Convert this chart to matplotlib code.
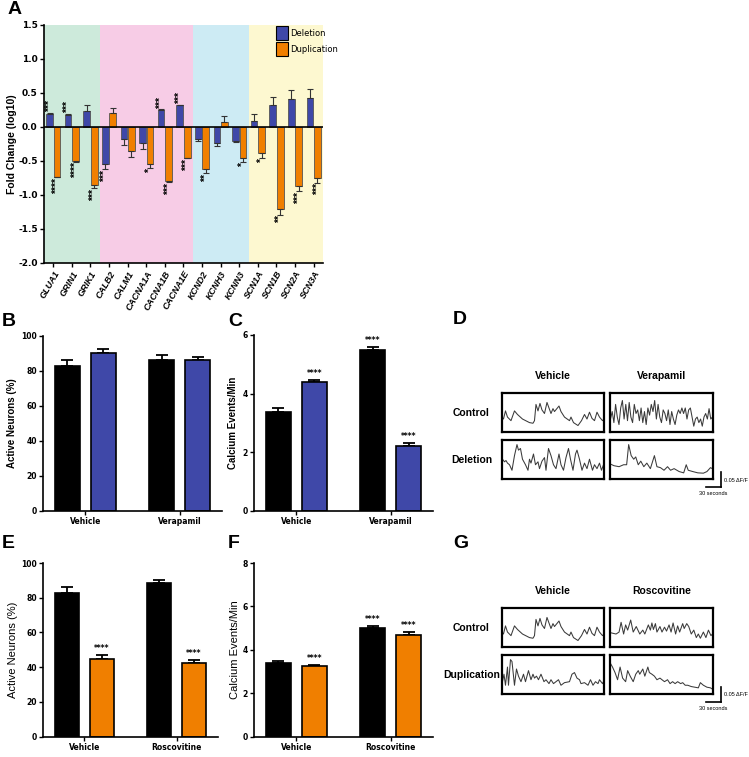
"""
Gene expression (A), calcium imaging bars (B, C, E, F) and example traces (D, G)
"""
import numpy as np
import matplotlib
matplotlib.use("Agg")
import matplotlib.pyplot as plt
from matplotlib import font_manager
from matplotlib.patches import Patch

names = {f.name for f in font_manager.fontManager.ttflist}
NARROW = "Liberation Sans Narrow" if "Liberation Sans Narrow" in names else "DejaVu Sans"
plt.rcParams['font.family'] = ['Liberation Sans', 'DejaVu Sans']

BLUE = '#3f48a8'
ORANGE = '#f07f00'

# ---- panel A data
genes = ['GLUA1', 'GRIN1', 'GRIK1', 'CALB2', 'CALM1', 'CACNA1A', 'CACNA1B', 'CACNA1E',
         'KCND2', 'KCNH3', 'KCNN3', 'SCN1A', 'SCN1B', 'SCN2A', 'SCN3A']
del_vals = [0.19, 0.17, 0.24, -0.55, -0.18, -0.24, 0.25, 0.32, -0.17, -0.24, -0.20, 0.09, 0.33, 0.41, 0.42]
del_err = [0.02, 0.02, 0.09, 0.07, 0.08, 0.08, 0.01, 0.01, 0.03, 0.04, 0.02, 0.10, 0.11, 0.14, 0.14]
dup_vals = [-0.73, -0.50, -0.85, 0.21, -0.36, -0.55, -0.80, -0.45, -0.62, 0.08, -0.46, -0.38, -1.21, -0.87, -0.75]
dup_err = [0.01, 0.01, 0.05, 0.07, 0.08, 0.06, 0.01, 0.01, 0.06, 0.08, 0.06, 0.08, 0.08, 0.07, 0.07]
del_sig = ['***', '***', '', '***', '', '', '***', '***', '', '', '', '', '', '', '']
dup_sig = ['****', '****', '***', '', '', '*', '***', '***', '**', '', '*', '*', '**', '***', '***']
group_sizes = [3, 5, 3, 4]
group_colors = ['#cdeadb', '#f7cce6', '#cdebf4', '#fdf8d0']

# ---- panels B, C (verapamil, deletion) and E, F (roscovitine, duplication)
treat_BC = ['Vehicle', 'Verapamil']
treat_EF = ['Vehicle', 'Roscovitine']
B_ctrl, B_ctrl_err, B_mut, B_mut_err = [83, 86.5], [3, 2.5], [90, 86.5], [2.5, 1.5]
C_ctrl, C_ctrl_err, C_mut, C_mut_err = [3.38, 5.5], [0.12, 0.1], [4.38, 2.22], [0.08, 0.1]
C_ctrl_sig, C_mut_sig = ['', '****'], ['****', '****']
E_ctrl, E_ctrl_err, E_mut, E_mut_err = [83, 88.5], [3, 1.5], [44.5, 42.3], [2.5, 1.8]
E_ctrl_sig, E_mut_sig = ['', ''], ['****', '****']
F_ctrl, F_ctrl_err, F_mut, F_mut_err = [3.38, 5.0], [0.12, 0.08], [3.25, 4.7], [0.05, 0.12]
F_ctrl_sig, F_mut_sig = ['', '****'], ['****', '****']

# ---- example traces (time in s, dF/F)
ctrl_veh_t = [0, 3, 7, 11, 18, 25, 31, 41, 55, 62, 65, 68, 72, 76, 80, 85, 90, 94, 98, 102, 105, 114,
              118, 125, 135, 138, 143, 152, 159, 165, 170, 175, 180, 185, 190, 195, 201, 204]
ctrl_veh_f = [.051, .045, .070, .051, .040, .070, .059, .045, .034, .032, .040, .090, .070, .093, .073,
              .062, .096, .079, .062, .077, .068, .085, .068, .051, .040, .051, .034, .025, .040, .059,
              .045, .066, .047, .040, .066, .051, .040, .045]
ctrl_vera_f = [.045, .068, .034, .090, .051, .028, .079, .102, .045, .090,
               .040, .096, .051, .034, .090, .062, .073, .040, .079, .034,
               .068, .028, .079, .057, .090, .068, .102, .045, .090, .051,
               .034, .073, .062, .040, .073, .028, .068, .045, .028, .057,
               .073, .062, .079, .062, .079, .045, .073, .079, .051, .023,
               .045, .051, .034, .045, .023, .051, .062, .045, .077, .045, .051]
del_veh_t = [1, 5, 8, 11, 15, 20, 25, 30, 33, 37, 41, 47, 52, 55, 58, 63, 67, 72, 75, 80, 85, 88, 93,
             98, 103, 108, 114, 118, 123, 128, 133, 137, 142, 147, 150, 155, 160, 165, 170, 175, 181,
             185, 190, 195, 199, 203]
del_veh_f = [.066, .058, .062, .054, .049, .032, .077, .111, .094, .099, .066, .049, .032, .066, .054,
             .082, .049, .058, .037, .060, .071, .032, .099, .077, .049, .037, .082, .049, .032, .071,
             .099, .066, .032, .082, .094, .066, .032, .054, .037, .066, .032, .049, .037, .054, .032, .049]
del_vera_t = [1, 8, 18, 27, 33, 37, 42, 47, 51, 56, 61, 67, 73, 80, 88, 93, 100, 107, 114, 120, 127,
              137, 146, 151, 155, 164, 174, 185, 192, 199, 203]
del_vera_f = [.051, .046, .043, .049, .049, .111, .077, .066, .073, .049, .060, .043, .054, .037, .077,
              .043, .040, .032, .043, .032, .037, .028, .024, .049, .032, .028, .024, .023, .028, .040, .037]
ctrl_rosc_t = [1, 12, 18, 22, 27, 31, 35, 41, 46, 52, 59, 65, 69, 76, 80, 83, 86, 90, 93, 99, 103, 108,
               112, 117, 121, 125, 130, 134, 138, 144, 147, 152, 156, 161, 166, 171, 175, 179, 185, 190,
               195, 200, 203]
ctrl_rosc_f = [.049, .045, .051, .081, .045, .073, .057, .088, .051, .068, .045, .057, .045, .073, .057,
               .079, .059, .077, .051, .068, .051, .066, .054, .073, .051, .079, .045, .070, .051, .077,
               .062, .077, .068, .045, .057, .034, .045, .032, .051, .034, .057, .040, .045]
dup_veh_t = [1, 4, 7, 11, 13, 17, 20, 25, 29, 33, 38, 43, 47, 53, 58, 62, 65, 69, 73, 78, 84, 88, 94,
             98, 103, 108, 113, 118, 125, 135, 140, 145, 150, 155, 158, 165, 172, 177, 182, 187, 192,
             195, 201, 203]
dup_veh_f = [.043, .066, .032, .088, .032, .111, .105, .032, .082, .060, .043, .066, .043, .077, .049,
             .066, .054, .060, .049, .066, .043, .049, .037, .049, .037, .043, .049, .032, .040, .043,
             .066, .071, .054, .049, .037, .040, .032, .049, .032, .043, .037, .049, .037, .043]
dup_rosc_t = [1, 5, 10, 15, 20, 25, 31, 35, 40, 46, 51, 56, 59, 65, 69, 75, 78, 83, 88, 93, 99, 103,
              108, 114, 119, 124, 129, 134, 140, 144, 149, 154, 161, 168, 175, 179, 185, 192, 199, 203]
dup_rosc_f = [.099, .088, .071, .049, .088, .054, .043, .077, .060, .043, .066, .077, .066, .082, .060,
              .088, .071, .066, .060, .049, .054, .049, .043, .049, .037, .043, .037, .043, .037, .040,
              .032, .032, .028, .026, .024, .040, .032, .026, .024, .020]


def style_axes(ax):
    for s in ['top', 'right']:
        ax.spines[s].set_visible(False)
    for s in ['left', 'bottom']:
        ax.spines[s].set_linewidth(1.2)
    ax.tick_params(direction='out', length=3, width=1.0, pad=1.5)


def plot_panel_a(fig):
    ax = fig.add_axes([0.0587, 0.6526, 0.3725, 0.3144])
    x = np.arange(len(genes))
    start = -0.5
    for n, c in zip(group_sizes, group_colors):
        ax.axvspan(start, start + n, color=c, lw=0, zorder=0)
        start += n
    for vals, err, sig, off, col in [(del_vals, del_err, del_sig, -0.2, BLUE),
                                     (dup_vals, dup_err, dup_sig, 0.2, ORANGE)]:
        vals = np.array(vals)
        err = np.array(err)
        lower = np.where(vals < 0, err, 0)
        upper = np.where(vals >= 0, err, 0)
        ax.bar(x + off, vals, 0.36, color=col, edgecolor='#555555', lw=0.6, zorder=2)
        ax.errorbar(x + off, vals, yerr=[lower, upper], fmt='none', ecolor='#333333',
                    elinewidth=0.8, capsize=2, capthick=0.8, zorder=2)
        for i, s in enumerate(sig):
            if not s:
                continue
            if vals[i] >= 0:
                ax.text(x[i] + off, vals[i] + err[i] + 0.01, s, rotation=90, ha='center',
                        va='bottom', fontsize=7.5, fontweight='bold')
            else:
                ax.text(x[i] + off, vals[i] - err[i] - 0.01, s, rotation=90, ha='center',
                        va='top', fontsize=7.5, fontweight='bold')
    ax.axhline(0, color='black', lw=1.2, zorder=3)
    ax.set_xlim(-0.5, len(genes) - 0.5)
    ax.set_ylim(-2.0, 1.5)
    ax.set_yticks(np.arange(-2.0, 1.51, 0.5))
    ax.set_yticklabels([f'{v:.1f}' for v in np.arange(-2.0, 1.51, 0.5)],
                       fontsize=6.5, fontweight='bold', family=NARROW)
    ax.set_xticks(x)
    ax.set_xticklabels(genes, rotation=60, ha='right', rotation_mode='anchor',
                       fontsize=6.5, fontweight='bold', fontstyle='italic')
    ax.set_ylabel('Fold Change (log10)', fontsize=7.5, fontweight='bold', labelpad=1)
    style_axes(ax)
    handles = [Patch(facecolor=BLUE, edgecolor='black', lw=0.8, label='Deletion'),
               Patch(facecolor=ORANGE, edgecolor='black', lw=0.8, label='Duplication')]
    ax.legend(handles=handles, loc='upper left', bbox_to_anchor=(0.83, 0.995),
              frameon=False, handlelength=1.45, handleheight=2.2, labelspacing=0.25,
              handletextpad=0.3, borderpad=0, borderaxespad=0,
              prop={'family': NARROW, 'size': 6})


def plot_bars(fig, rect, xlabels, ctrl, ctrl_err, mut, mut_err, ctrl_sig, mut_sig, color,
              ymax, ystep, ylabel, bold):
    ax = fig.add_axes(rect)
    x = np.arange(len(xlabels))
    off, w = 0.19, 0.26
    for pos, vals, err, sig, col in [(x - off, ctrl, ctrl_err, ctrl_sig, 'black'),
                                     (x + off, mut, mut_err, mut_sig, color)]:
        ax.bar(pos, vals, w, color=col, edgecolor='black', lw=1.2, zorder=2)
        ax.errorbar(pos, vals, yerr=[np.zeros(len(err)), err], fmt='none', ecolor='black',
                    elinewidth=1.3, capsize=4.5, capthick=1.3, zorder=1)
        for i, s in enumerate(sig):
            if s:
                ax.text(pos[i], vals[i] + err[i] + ymax * 0.012, s, ha='center', va='bottom',
                        fontsize=5.5, fontweight='bold', family=NARROW)
    ax.set_xlim(-0.45, 1.45)
    ax.set_ylim(0, ymax)
    ticks = np.arange(0, ymax + 0.01, ystep)
    ax.set_yticks(ticks)
    ax.set_yticklabels([f'{t:g}' for t in ticks], fontsize=5.5, fontweight='bold', family=NARROW)
    ax.set_xticks(x)
    ax.set_xticklabels(xlabels, fontsize=5.5, fontweight='bold', family=NARROW)
    if bold:
        ax.set_ylabel(ylabel, fontsize=7, fontweight='bold', labelpad=3)
    else:
        ax.set_ylabel(ylabel, fontsize=8, labelpad=2)
    style_axes(ax)
    return ax


def plot_traces(fig, top_y, cols, rows, traces):
    left = [0.6702, 0.8144]
    width = [0.1362, 0.1375]
    bottoms = [top_y, top_y - 0.0621]
    h = 0.0515
    axes = {}
    for r in range(2):
        for c in range(2):
            ax = fig.add_axes([left[c], bottoms[r], width[c], h])
            t, f = traces[r][c]
            ax.plot(t, f, color='#3a3a3a', lw=0.75)
            ax.set_xlim(0, 204)
            ax.set_ylim(0.005, 0.125)
            ax.set_xticks([])
            ax.set_yticks([])
            for s in ax.spines.values():
                s.set_linewidth(1.6)
            axes[(r, c)] = ax
    for c, name in enumerate(cols):
        axes[(0, c)].text(0.5, 1.3, name, transform=axes[(0, c)].transAxes, ha='center',
                          va='bottom', fontsize=7.5, fontweight='bold')
    for r, name in enumerate(rows):
        axes[(r, 0)].text(-0.3, 0.5, name, transform=axes[(r, 0)].transAxes, ha='center',
                          va='center', fontsize=7.5, fontweight='bold')
    # scale bar: 30 s by 0.05 dF/F
    ax = axes[(1, 1)]
    ax.plot([190, 220], [-0.02, -0.02], color='black', lw=1.2, clip_on=False)
    ax.plot([220, 220], [-0.02, 0.026], color='black', lw=1.2, clip_on=False)
    ax.text(225, 0.002, '0.05 ΔF/F', fontsize=4, va='center', ha='left', clip_on=False)
    ax.text(205, -0.032, '30 seconds', fontsize=4, va='top', ha='center', clip_on=False)


def main():
    fig = plt.figure(figsize=(7.49, 7.57), dpi=100)
    plot_panel_a(fig)

    plot_bars(fig, [0.0574, 0.325, 0.239, 0.2312], treat_BC, B_ctrl, B_ctrl_err, B_mut, B_mut_err,
              ['', ''], ['', ''], BLUE, 100, 20, 'Active Neurons (%)', True)
    plot_bars(fig, [0.3391, 0.325, 0.239, 0.2325], treat_BC, C_ctrl, C_ctrl_err, C_mut, C_mut_err,
              C_ctrl_sig, C_mut_sig, BLUE, 6, 2, 'Calcium Events/Min', True)
    plot_bars(fig, [0.0574, 0.027, 0.2336, 0.2292], treat_EF, E_ctrl, E_ctrl_err, E_mut, E_mut_err,
              E_ctrl_sig, E_mut_sig, ORANGE, 100, 20, 'Active Neurons (%)', False)
    plot_bars(fig, [0.3391, 0.027, 0.239, 0.2292], treat_EF, F_ctrl, F_ctrl_err, F_mut, F_mut_err,
              F_ctrl_sig, F_mut_sig, ORANGE, 8, 2, 'Calcium Events/Min', False)

    ctrl_vera_t = np.linspace(1, 203, len(ctrl_vera_f))
    plot_traces(fig, 0.4293, ['Vehicle', 'Verapamil'], ['Control', 'Deletion'],
                [[(ctrl_veh_t, ctrl_veh_f), (ctrl_vera_t, ctrl_vera_f)],
                 [(del_veh_t, del_veh_f), (del_vera_t, del_vera_f)]])
    plot_traces(fig, 0.1453, ['Vehicle', 'Roscovitine'], ['Control', 'Duplication'],
                [[(ctrl_veh_t, ctrl_veh_f), (ctrl_rosc_t, ctrl_rosc_f)],
                 [(dup_veh_t, dup_veh_f), (dup_rosc_t, dup_rosc_f)]])

    for label, xp, yp in [('A', 8, 10), ('B', 2, 322), ('C', 228, 322), ('D', 453, 320),
                          ('E', 2, 543), ('F', 228, 543), ('G', 453, 543)]:
        fig.text(xp / 749, 1 - yp / 757, label, fontsize=14, fontweight='bold',
                 ha='left', va='center')

    fig.savefig('out.png', dpi=100)
    plt.close(fig)


if __name__ == "__main__":
    main()
